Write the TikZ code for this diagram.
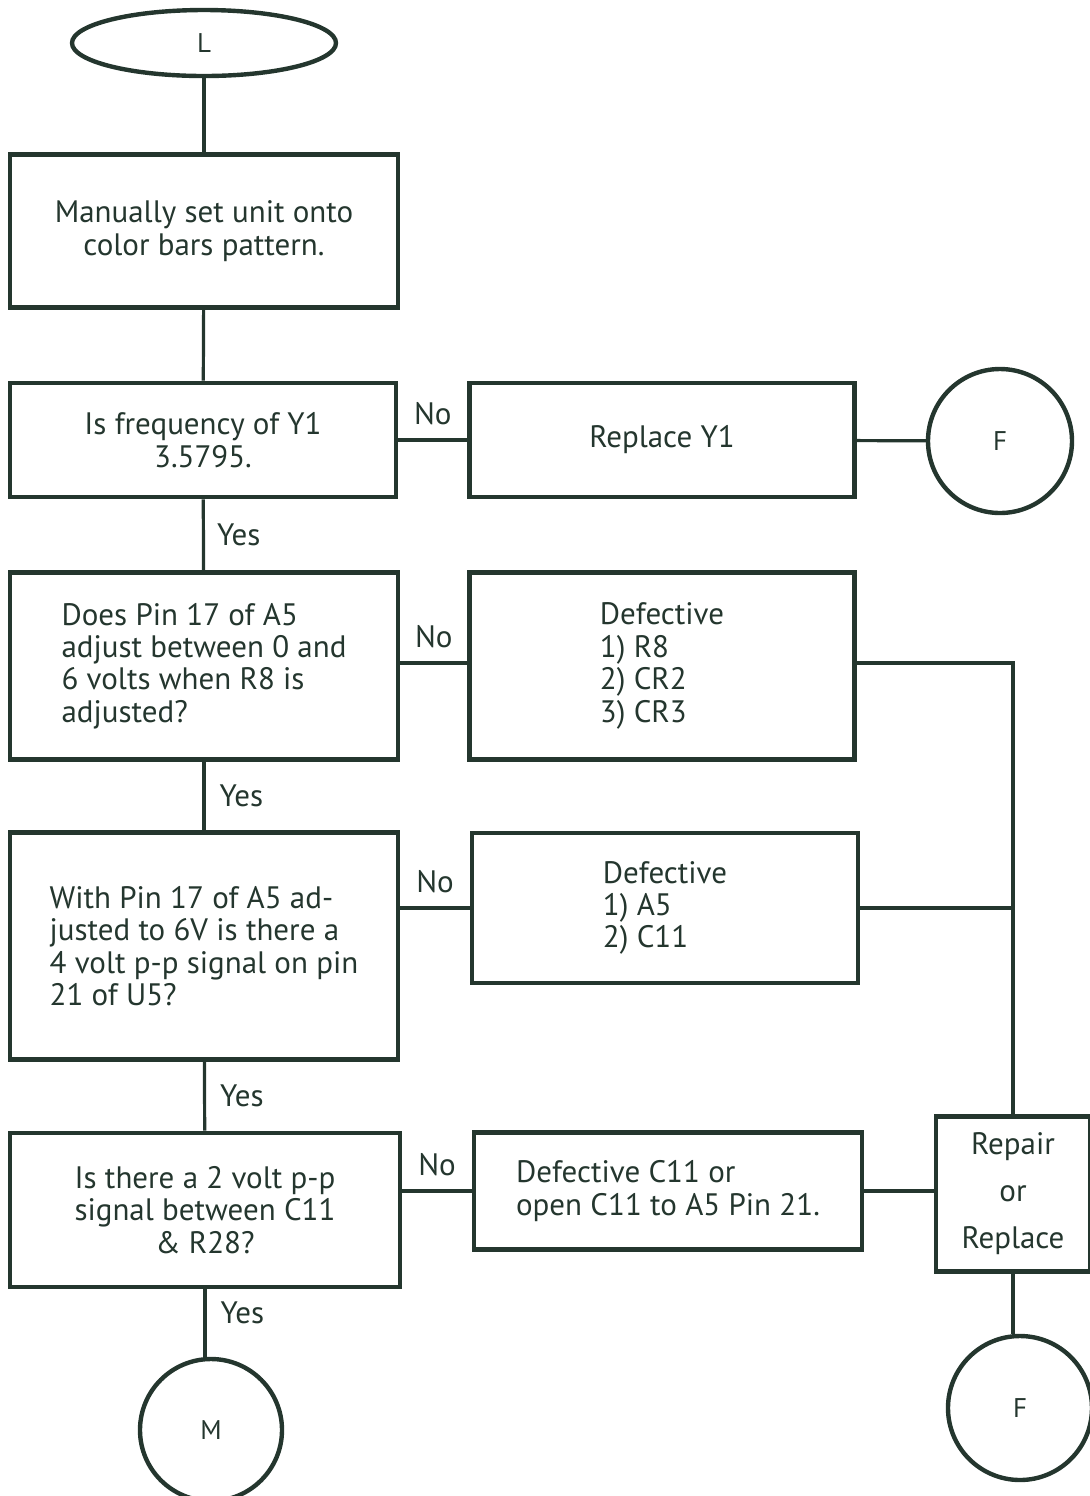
\documentclass[tikz,border=0pt]{standalone}
\usepackage{fontspec}
\setmainfont{PT Sans}
\usetikzlibrary{shapes.geometric}
\definecolor{ink}{RGB}{36,54,46}
\tikzset{
  box/.style={draw=ink, line width=2.4pt, text=ink, align=center, inner sep=0pt,
    font=\fontsize{15.5}{16.2}\selectfont},
  term/.style={draw=ink, line width=2.2pt, text=ink, inner sep=0pt,
    font=\fontsize{13.5}{15}\selectfont},
  link/.style={draw=ink, line width=1.6pt},
  lbl/.style={text=ink, inner sep=1pt, font=\fontsize{15.5}{16}\selectfont}
}

\begin{document}
\begin{tikzpicture}[x=0.5pt,y=-0.5pt]
\useasboundingbox (0,0) rectangle (1090,1496);
\node[term, ellipse, minimum width=132pt, minimum height=33pt] (start) at (204,43) {L};
\node[box, minimum width=194pt, minimum height=76.5pt] (set) at (204,231)
  {Manually set unit onto\\color bars pattern.};
\node[box, minimum width=193pt, minimum height=57pt] (freq) at (203,440)
  {Is frequency of Y1\\3.5795.};
\node[box, minimum width=192.5pt, minimum height=57pt] (repy) at (662,440) {Replace Y1};
\node[term, circle, minimum size=72pt] (fa) at (1000,441) {F};
\node[box, minimum width=194pt, minimum height=93.5pt, align=left] (pin) at (204,666)
  {Does Pin 17 of A5\\adjust between 0 and\\6 volts when R8 is\\adjusted?};
\node[box, minimum width=192.5pt, minimum height=93.5pt, align=left] (defa) at (662,666)
  {Defective\\1) R8\\2) CR2\\3) CR3};
\node[box, minimum width=194pt, minimum height=113.5pt, align=left] (sig) at (204,946)
  {With Pin 17 of A5 ad-\\justed to 6V is there a\\4 volt p-p signal on pin\\21 of U5?};
\node[box, minimum width=193pt, minimum height=75pt, align=left] (defb) at (665,908)
  {Defective\\1) A5\\2) C11};
\node[box, minimum width=195pt, minimum height=77pt] (volt) at (205,1210)
  {Is there a 2 volt p-p\\signal between C11\\\& R28?};
\node[box, minimum width=194pt, minimum height=58.5pt, align=left] (defc) at (668,1191)
  {Defective C11 or\\open C11 to A5 Pin 21.};
\node[box, minimum width=77pt, minimum height=77.5pt,
  font=\fontsize{15.5}{23.5}\selectfont] (rep) at (1013,1194) {Repair\\or\\Replace};
\node[term, circle, minimum size=72pt] (fb) at (1020,1408) {F};
\node[term, circle, minimum size=71pt] (m) at (211,1430) {M};

\draw[link] (start) -- (set);
\draw[link] (set) -- (freq);
\draw[link] (freq) -- node[lbl, above=6pt] {No} (repy);
\draw[link] (repy) -- (fa);
\draw[link] (freq) -- node[lbl, right=5pt] {Yes} (pin);
\draw[link] (pin.east |- 0,663) -- node[lbl, above=6pt] {No} (defa.west |- 0,663);
\draw[link] (defa.east |- 0,663) -| (rep.north);
\draw[link] (pin) -- node[lbl, right=6pt] {Yes} (sig);
\draw[link] (defb.west -| sig.east) -- node[lbl, above=6pt] {No} (defb.west);
\draw[link] (defb.east) -- (defb.east -| rep.north);
\draw[link] (sig) -- node[lbl, right=6pt] {Yes} (volt);
\draw[link] (defc.west -| volt.east) -- node[lbl, above=6pt] {No} (defc.west);
\draw[link] (defc.east) -- (defc.east -| rep.west);
\draw[link] (rep.south) -- (rep.south |- fb.north);
\draw[link] (volt.south) -- node[lbl, right=6pt, pos=.35] {Yes} (volt.south |- m.north);
\end{tikzpicture}
\end{document}
